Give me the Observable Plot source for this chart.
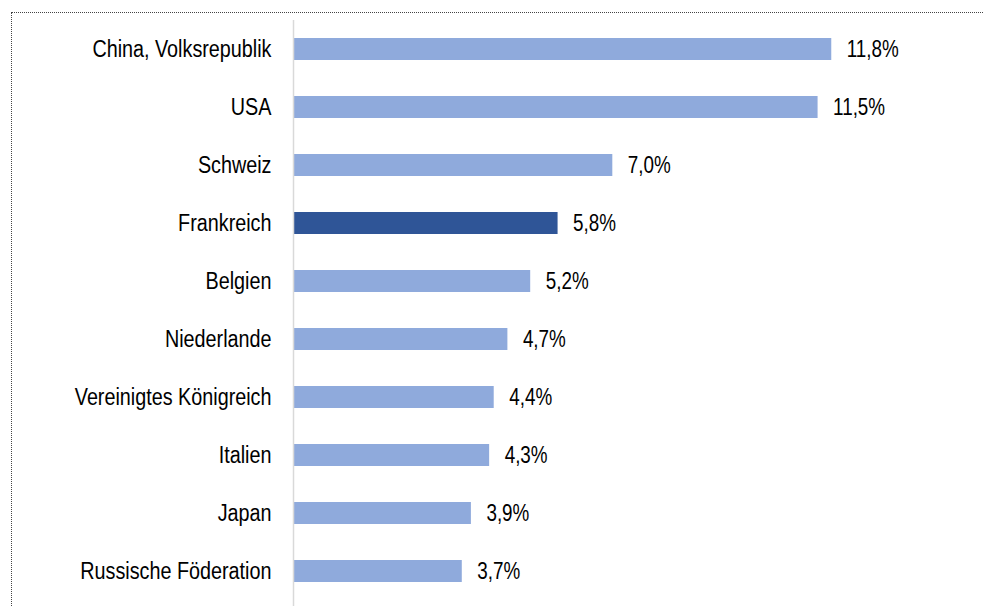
<!DOCTYPE html>
<html>
<head>
<meta charset="utf-8">
<script src="https://cdn.jsdelivr.net/npm/d3@7"></script>
<script src="https://cdn.jsdelivr.net/npm/@observablehq/plot@0.6"></script>
<style>
  html, body { margin: 0; padding: 0; background: #fff; overflow: hidden; }
  #wrap { position: relative; width: 983px; height: 606px; }
  #border { position: absolute; left: 11px; top: 12px; width: 1000px; height: 700px;
            border-top: 1px dotted #444; border-left: 1px dotted #444; box-sizing: border-box; }
  #chart { position: absolute; left: 0; top: 0; }
  #chart svg { font-family: "Liberation Sans Narrow", "Arial Narrow", "Liberation Sans", Arial, sans-serif; }
</style>
</head>
<body>
<div id="wrap">
  <div id="border"></div>
  <div id="chart"></div>
</div>
<script>
const countries = ["China, Volksrepublik", "USA", "Schweiz", "Frankreich", "Belgien",
  "Niederlande", "Vereinigtes Königreich", "Italien", "Japan", "Russische Föderation"];
const shares = [11.8, 11.5, 7.0, 5.8, 5.2, 4.7, 4.4, 4.3, 3.9, 3.7];
const highlight = "Frankreich";

const data = countries.map((c, i) => ({country: c, value: shares[i]}));
const fmt = v => v.toFixed(1).replace(".", ",") + "%";

const chart = Plot.plot({
  width: 983,
  height: 606,
  marginLeft: 293,
  marginRight: 97,
  marginTop: 19,
  marginBottom: 4,
  style: {fontSize: "23px", color: "#000", background: "transparent"},
  x: {domain: [0, 13], axis: null},
  y: {domain: countries, paddingInner: 0.615, paddingOuter: 0.31, label: null, axis: null},
  marks: [
    Plot.barX(data, {
      x: "value", y: "country",
      fill: d => d.country === highlight ? "#2f5597" : "#8faadc"
    }),
    Plot.ruleX([0], {stroke: "#d9d9d9", strokeWidth: 1.5, insetTop: 1, insetBottom: -4}),
    Plot.text(data, {
      x: "value", y: "country", text: d => fmt(d.value),
      textAnchor: "start", dx: 15, fill: "#000", fontSize: 23, className: "vals"
    }),
    Plot.axisY({tickSize: 0, tickPadding: 22, fontSize: 23, label: null, fill: "#000", className: "ylab"})
  ]
});
document.getElementById("chart").appendChild(chart);

// emulate a narrow (condensed) typeface by horizontally scaling each text around its anchor
const squeeze = (sel, s) => {
  chart.querySelectorAll(sel).forEach(el => {
    const t = el.getAttribute("transform") || "";
    const x = parseFloat(el.getAttribute("x")) || 0;
    el.setAttribute("transform", `${t} translate(${x},0) scale(${s},1) translate(${-x},0)`);
  });
};
const narrowAvailable = (() => {
  const c = document.createElement("canvas").getContext("2d");
  c.font = '23px "Liberation Sans Narrow", monospace'; const a = c.measureText("Volksrepublik").width;
  c.font = '23px monospace'; const b = c.measureText("Volksrepublik").width;
  return a !== b;
})();
if (!narrowAvailable) {
  squeeze(".ylab text", 0.86);
  squeeze(".vals text", 0.82);
}
</script>
</body>
</html>
